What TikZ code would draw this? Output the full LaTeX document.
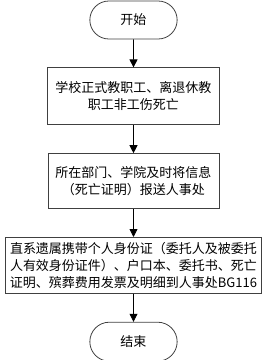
\documentclass[tikz,border=0pt]{standalone}
\usepackage{fontspec}
\setmainfont{Noto Sans CJK SC}
\usetikzlibrary{positioning}
\usetikzlibrary{arrows.meta}
\usetikzlibrary{shapes.misc}

\begin{document}
\begin{tikzpicture}[
    node distance=28pt,
    terminal/.style={rounded rectangle, draw=black!75, line width=0.8pt, minimum width=94pt,
                     minimum height=38pt, font=\fontsize{13}{17}\selectfont},
    block/.style={rectangle, draw=black!75, line width=0.8pt, align=center, inner sep=2pt,
                  font=\fontsize{13}{17}\selectfont},
    arrow/.style={-{Triangle[length=8pt,width=8pt]}, line width=0.8pt, black}
]
    \useasboundingbox (0,0) rectangle (267pt,360pt);

    \node[terminal] (start) at (133.5pt,340pt) {开始};
    \node[block, below=of start, minimum width=172pt, minimum height=57pt] (death)
        {学校正式教职工、离退休教\\职工非工伤死亡};
    \node[block, below=of death, minimum width=171pt, minimum height=55pt] (report)
        {所在部门、学院及时将信息\\（死亡证明）报送人事处};
    \node[block, below=of report, minimum width=256pt, minimum height=56pt] (submit)
        {直系遗属携带个人身份证（委托人及被委托\\人有效身份证件）、户口本、委托书、死亡\\证明、殡葬费用发票及明细到人事处BG116};
    \node[terminal, below=of submit, minimum height=39pt] (finish) {结束};

    \draw[arrow] (start) -- (death);
    \draw[arrow] (death) -- (report);
    \draw[arrow] (report) -- (submit);
    \draw[arrow] (submit) -- (finish);
\end{tikzpicture}
\end{document}
